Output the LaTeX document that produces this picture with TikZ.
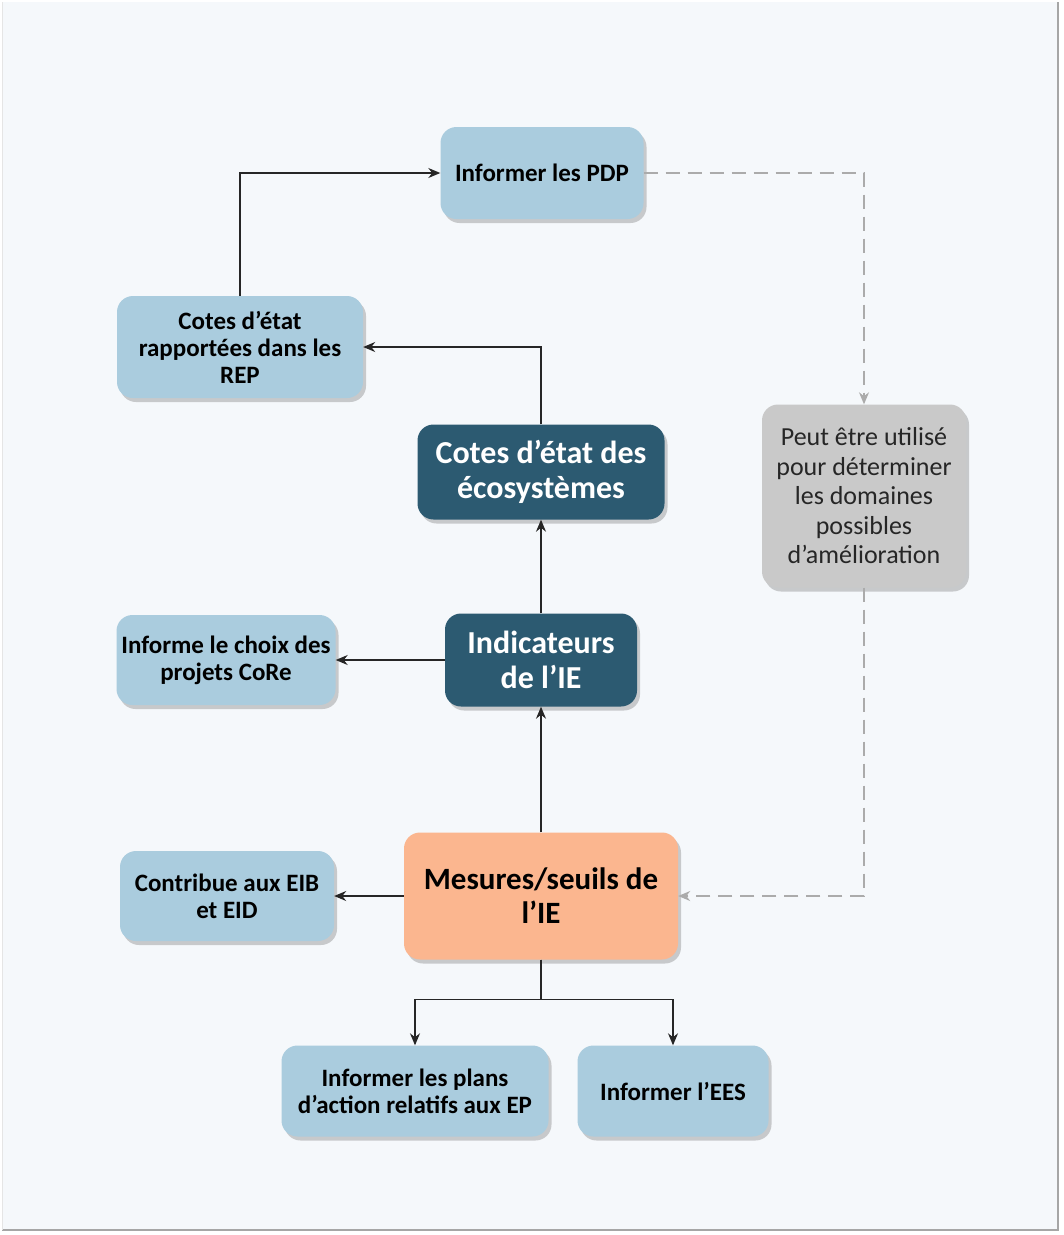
\documentclass[tikz,border=0pt]{standalone}
\usepackage{fontspec}
\setmainfont{Carlito}
\usepackage{xcolor}
\usepackage{tikz}
\usetikzlibrary{arrows.meta,positioning,calc,shadows}

\definecolor{pagebg}{HTML}{F5F8FB}
\definecolor{boxblue}{HTML}{AACCDE}
\definecolor{boxdark}{HTML}{2C5A71}
\definecolor{boxorange}{HTML}{FBB68F}
\definecolor{boxgray}{HTML}{C9C9C9}
\definecolor{dashgray}{HTML}{ABABAB}

\begin{document}
\begin{tikzpicture}[x=1pt,y=-1pt,>={Stealth[length=12pt,width=10pt]},
  box/.style={rounded corners=16pt,align=center,inner sep=4pt,
    drop shadow={shadow xshift=3pt,shadow yshift=-4pt,opacity=.35,fill=black!55}},
  lightbox/.style={box,fill=boxblue,font=\bfseries\fontsize{25}{27}\selectfont},
  darkbox/.style={box,fill=boxdark,text=white,font=\bfseries\fontsize{32}{35}\selectfont},
  mainbox/.style={box,fill=boxorange,font=\bfseries\fontsize{31}{34}\selectfont},
  notebox/.style={box,fill=boxgray,text=black!85,font=\fontsize{26}{29.5}\selectfont},
  link/.style={->,line width=1.2pt,black!85},
  hint/.style={->,line width=1.3pt,dashgray,dash pattern=on 14pt off 8pt}]
\useasboundingbox (0,0) rectangle (1064,1235);
% page
\fill[white] (0,0) rectangle (1064,1235);
\fill[pagebg] (2,2) rectangle (1058,1230);
\draw[black!35,line width=2pt] (1058,2) -- (1058,1230) -- (2,1230);
\draw[black!10,line width=1pt] (2,2) -- (2,1230);

% boxes
\node[lightbox,minimum width=203,minimum height=92] (pdp) at (542,173) {Informer les PDP};
\node[lightbox,minimum width=246,minimum height=102] (rep) at (240,347) {Cotes d’état\\rapportées dans les\\REP};
\node[darkbox,minimum width=247,minimum height=95] (etat) at (541,472) {Cotes d’état des\\écosystèmes};
\node[notebox,minimum width=204,minimum height=183] (note) at (864,496) {Peut être utilisé\\pour déterminer\\les domaines\\possibles\\d’amélioration};
\node[darkbox,minimum width=192,minimum height=93] (ind) at (541,660) {Indicateurs\\de l’IE};
\node[lightbox,minimum width=219,minimum height=90] (core) at (226,660) {Informe le choix des\\projets CoRe};
\node[mainbox,minimum width=274,minimum height=127] (mes) at (541,896) {Mesures/seuils de\\l’IE};
\node[lightbox,minimum width=214,minimum height=90] (eib) at (227,896) {Contribue aux EIB\\et EID};
\node[lightbox,minimum width=267,minimum height=91] (ep) at (415,1091) {Informer les plans\\d’action relatifs aux EP};
\node[lightbox,minimum width=191,minimum height=91] (ees) at (673,1091) {Informer l’EES};

% connectors
\draw[link] (rep.north) |- (pdp.west);
\draw[link] (etat.north) |- (rep.east);
\draw[link] (ind) -- (etat);
\draw[link] (ind) -- (core);
\draw[link] (mes) -- (ind);
\draw[link] (mes) -- (eib);
\draw[link] (mes.south) -- ++(0,40) -| (ep.north);
\draw[link] (mes.south) -- ++(0,40) -| (ees.north);
\draw[hint] (pdp.east) -| (note.north);
\draw[hint] (note.south) |- (mes.east);
\end{tikzpicture}
\end{document}
